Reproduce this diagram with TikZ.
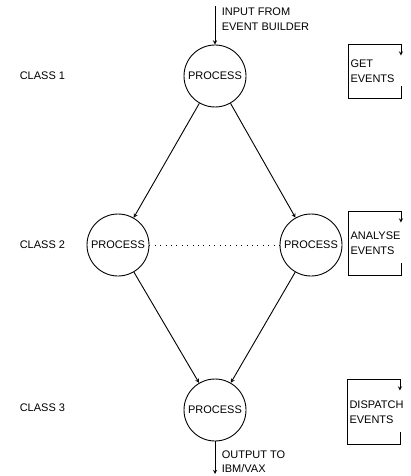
\documentclass[tikz,border=0pt]{standalone}
\usepackage{fontspec}
\setmainfont{Liberation Sans}
\usetikzlibrary{arrows, positioning}

\begin{document}
\begin{tikzpicture}[
    x=1pt, y=-1pt,
    every node/.style={font=\fontsize{11}{15}\selectfont},
    every path/.style={line width=0.9pt},
    proc/.style={draw, circle, minimum size=62pt, inner sep=1pt},
    loopbox/.style={rectangle, minimum width=52pt, text width=48pt, inner sep=2pt, align=left},
    classlbl/.style={anchor=west},
    arrow/.style={->, >=stealth}
]
\useasboundingbox (0,0) rectangle (410,476);

% processes
\node (p1) [proc] at (215,76) {PROCESS};
\node (p2a) [proc] at (118,245) {PROCESS};
\node (p2b) [proc] at (311,245) {PROCESS};
\node (p3) [proc] at (215,410) {PROCESS};

\node (c1) [classlbl] at (16,76) {CLASS 1};
\node (c2) [classlbl] at (16,245) {CLASS 2};
\node (c3) [classlbl] at (16,408) {CLASS 3};

% tasks
\node (get) [loopbox, minimum height=53pt] at (374.5,71.5) {GET\\EVENTS};
\node (ana) [loopbox, minimum height=63pt] at (374.5,243.5) {ANALYSE\\EVENTS};
\node (disp) [loopbox, minimum height=64pt] at (373.5,412) {DISPATCH\\EVENTS};

\foreach \b in {get, ana, disp}
    \draw [arrow] ([yshift=12pt]\b.south east) -- (\b.south east) -- (\b.south west) -- (\b.north west) -- (\b.north east) -- ([yshift=-11pt]\b.north east);

% input / output
\coordinate (in) at (215,6);
\coordinate (out) at (215,474);
\node (intxt) [anchor=west, align=left, right=3pt of in, yshift=-13pt] {INPUT FROM\\EVENT BUILDER};
\node (outtxt) [anchor=west, align=left, font=\fontsize{11}{14}\selectfont] at (218,462) {OUTPUT TO\\IBM/VAX};

\draw [arrow] (in) -- (p1);
\draw [arrow] (p1) -- (p2a);
\draw [arrow] (p1) -- (p2b);
\draw [arrow] (p2a) -- (p3);
\draw [arrow] (p2b) -- (p3);
\draw [dash pattern=on 0.9pt off 4.5pt] (p2a) -- (p2b);
\draw [arrow] (p3) -- (out);

\end{tikzpicture}
\end{document}
